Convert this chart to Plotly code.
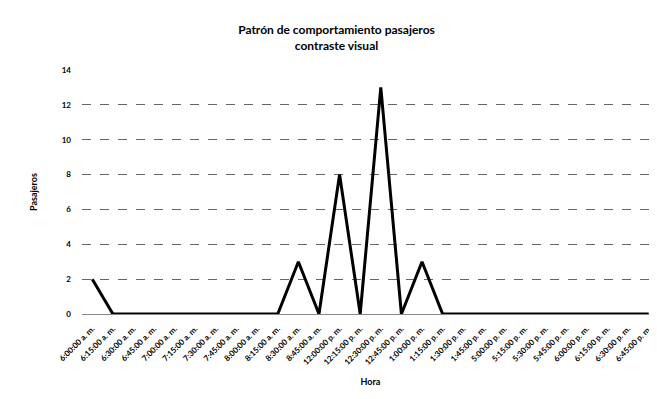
import plotly.graph_objects as go

horas = ["6:00:00 a. m.", "6:15:00 a. m.", "6:30:00 a. m.", "6:45:00 a. m.",
         "7:00:00 a. m.", "7:15:00 a. m.", "7:30:00 a. m.", "7:45:00 a. m.",
         "8:00:00 a. m.", "8:15:00 a. m.", "8:30:00 a. m.", "8:45:00 a. m.",
         "12:00:00 p. m.", "12:15:00 p. m.", "12:30:00 p. m.", "12:45:00 p. m.",
         "1:00:00 p. m.", "1:15:00 p. m.", "1:30:00 p. m.", "1:45:00 p. m.",
         "5:00:00 p. m.", "5:15:00 p. m.", "5:30:00 p. m.", "5:45:00 p. m.",
         "6:00:00 p. m.", "6:15:00 p. m.", "6:30:00 p. m.", "6:45:00 p. m."]
pasajeros = [2, 0, 0, 0, 0, 0, 0, 0, 0, 0, 3, 0, 8, 0, 13, 0, 3, 0,
             0, 0, 0, 0, 0, 0, 0, 0, 0, 0]
y_ticks = [0, 2, 4, 6, 8, 10, 12, 14]

fig = go.Figure()
fig.add_trace(go.Scatter(x=horas, y=pasajeros, mode="lines",
                         line=dict(color="black", width=3)))

fig.update_layout(
    width=657, height=399,
    margin=dict(l=74, r=6, t=62, b=93, autoexpand=False),
    paper_bgcolor="white", plot_bgcolor="white",
    showlegend=False,
    font=dict(family="Lato", color="black"),
    title=dict(text="<b>Patrón de comportamiento pasajeros<br>contraste visual</b>",
               x=0.5, xanchor="center", y=0.935, yanchor="top",
               font=dict(size=12, family="Lato", color="black")),
    xaxis=dict(type="category", range=[-0.5, 27.5], tickangle=-45,
               tickfont=dict(size=8, family="Lato", color="black", weight="bold"),
               ticklabelstandoff=6,
               showgrid=False, showline=True, linecolor="#888", automargin=False,
               title=dict(text="<b>Hora</b>", font=dict(size=9), standoff=12)),
    yaxis=dict(range=[0, 14], tickvals=y_ticks, automargin=False,
               tickfont=dict(size=8, family="Lato", color="black", weight="bold"),
               showgrid=True, gridcolor="#666", griddash="dash", gridwidth=1,
               zeroline=False, ticklabelstandoff=10,
               title=dict(text="<b>Pasajeros</b>", font=dict(size=9), standoff=22)),
)

fig.write_html("out.html")
